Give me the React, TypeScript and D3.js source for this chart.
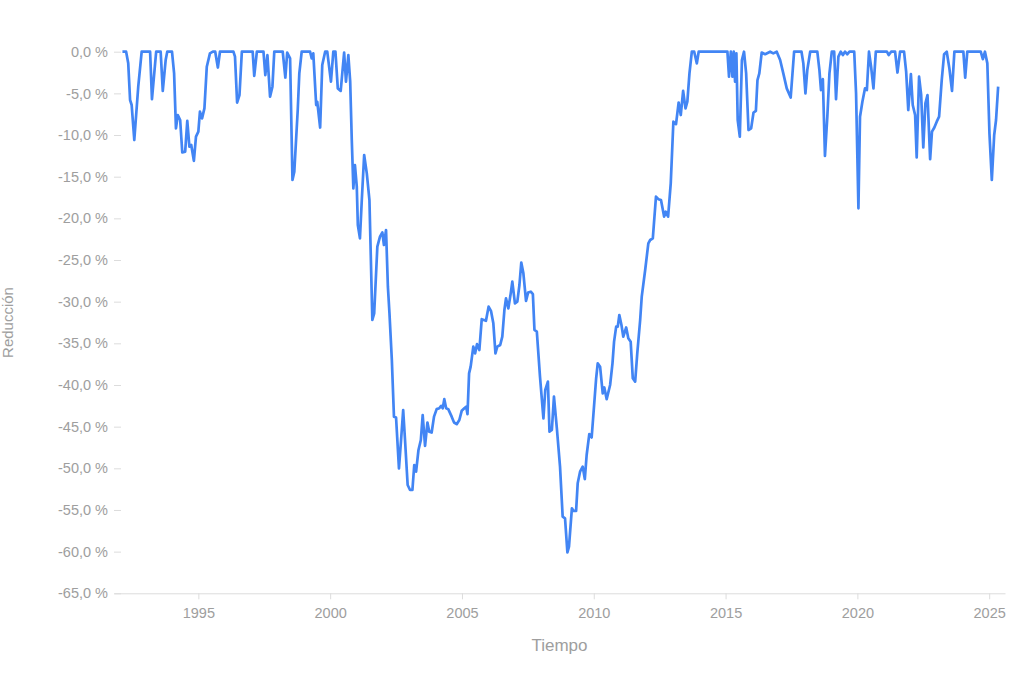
import { useEffect, useRef } from 'react';
import * as d3 from 'd3';

// Drawdown series: decimal year / reduction in %
const fechas = [
  1992.12, 1992.26, 1992.34, 1992.41, 1992.47, 1992.57, 1992.72, 1992.85, 1993.17, 1993.24,
  1993.4, 1993.57, 1993.65, 1993.76, 1993.82, 1994.0, 1994.08, 1994.15, 1994.22, 1994.31,
  1994.39, 1994.5, 1994.58, 1994.66, 1994.73, 1994.83, 1994.91, 1995.0, 1995.06, 1995.14,
  1995.23, 1995.32, 1995.44, 1995.55, 1995.64, 1995.74, 1995.82, 1996.33, 1996.39, 1996.47,
  1996.56, 1996.65, 1997.06, 1997.12, 1997.22, 1997.47, 1997.54, 1997.62, 1997.72, 1997.81,
  1997.88, 1998.2, 1998.3, 1998.37, 1998.48, 1998.57, 1998.64, 1998.77, 1998.83, 1998.92,
  1999.24, 1999.3, 1999.36, 1999.47, 1999.51, 1999.62, 1999.7, 1999.81, 1999.89, 2000.03,
  2000.12, 2000.2, 2000.29, 2000.4, 2000.53, 2000.6, 2000.69, 2000.76, 2000.82, 2000.88,
  2000.94, 2001.01, 2001.05, 2001.13, 2001.2, 2001.29, 2001.39, 2001.49, 2001.6, 2001.67,
  2001.79, 2001.89, 2001.98, 2002.04, 2002.12, 2002.19, 2002.25, 2002.34, 2002.42, 2002.5,
  2002.61, 2002.69, 2002.77, 2002.84, 2002.94, 2003.03, 2003.12, 2003.19, 2003.26, 2003.35,
  2003.44, 2003.51, 2003.6, 2003.69, 2003.76, 2003.85, 2003.94, 2004.04, 2004.14, 2004.21,
  2004.27, 2004.33, 2004.4, 2004.48, 2004.61, 2004.7, 2004.8, 2004.9, 2004.99, 2005.09,
  2005.16, 2005.21, 2005.27, 2005.33, 2005.43, 2005.5, 2005.57, 2005.66, 2005.75, 2005.91,
  2006.01, 2006.1, 2006.19, 2006.27, 2006.34, 2006.45, 2006.53, 2006.61, 2006.67, 2006.76,
  2006.85, 2006.91, 2007.01, 2007.1, 2007.18, 2007.25, 2007.33, 2007.43, 2007.51, 2007.61,
  2007.69, 2007.75, 2007.84, 2007.96, 2008.09, 2008.16, 2008.26, 2008.32, 2008.41, 2008.49,
  2008.6, 2008.72, 2008.82, 2008.91, 2009.0, 2009.06, 2009.17, 2009.23, 2009.33, 2009.39,
  2009.48, 2009.58, 2009.66, 2009.73, 2009.83, 2009.92, 2010.09, 2010.15, 2010.24, 2010.34,
  2010.4, 2010.49, 2010.62, 2010.71, 2010.77, 2010.85, 2010.91, 2010.97, 2011.05, 2011.12,
  2011.23, 2011.31, 2011.4, 2011.48, 2011.57, 2011.65, 2011.76, 2011.82, 2011.95, 2012.07,
  2012.14, 2012.24, 2012.36, 2012.45, 2012.55, 2012.67, 2012.73, 2012.82, 2012.92, 2013.02,
  2013.12, 2013.22, 2013.3, 2013.39, 2013.48, 2013.55, 2013.63, 2013.72, 2013.81, 2013.91,
  2013.98, 2015.07, 2015.13, 2015.2, 2015.26, 2015.31, 2015.36, 2015.41, 2015.46, 2015.54,
  2015.62, 2015.7, 2015.78, 2015.87, 2015.97, 2016.06, 2016.15, 2016.21, 2016.28, 2016.37,
  2016.5, 2016.69, 2016.81, 2016.94, 2017.07, 2017.19, 2017.32, 2017.47, 2017.6, 2017.88,
  2017.95, 2018.03, 2018.1, 2018.21, 2018.48, 2018.56, 2018.62, 2018.69, 2018.77, 2018.86,
  2018.94, 2019.03, 2019.12, 2019.19, 2019.28, 2019.37, 2019.45, 2019.53, 2019.62, 2019.7,
  2019.88, 2019.95, 2020.04, 2020.1, 2020.19, 2020.29, 2020.36, 2020.44, 2020.52, 2020.61,
  2020.7, 2021.12, 2021.19, 2021.28, 2021.43, 2021.52, 2021.62, 2021.77, 2021.85, 2021.93,
  2022.03, 2022.1, 2022.19, 2022.25, 2022.34, 2022.42, 2022.5, 2022.58, 2022.66, 2022.76,
  2022.83, 2022.92, 2023.01, 2023.1, 2023.2, 2023.29, 2023.39, 2023.49, 2023.59, 2023.68,
  2024.02, 2024.09, 2024.17, 2024.68, 2024.76, 2024.84, 2024.93, 2025.01, 2025.1, 2025.19,
  2025.26, 2025.34,
];

const reduccion = [
  0, 0, -1.4, -5.8, -6.4, -10.6, -4.2, 0, 0, -5.7,
  0, 0, -4.7, -1.0, 0, 0, -2.6, -9.2, -7.6, -8.2,
  -12.1, -12.0, -8.3, -11.4, -11.2, -13.1, -10.2, -9.6, -7.2, -8.0,
  -6.8, -1.8, -0.2, 0, 0, -1.9, 0, 0, -0.6, -6.1,
  -5.2, 0, 0, -2.9, 0, 0, -2.8, -0.4, -5.4, -4.2,
  0, 0, -3.1, -0.1, -0.8, -15.4, -14.4, -7.0, -2.6, 0,
  0, -0.8, -0.2, -6.4, -6.0, -9.1, -1.6, 0, 0, -3.6,
  0, 0, -4.4, -4.7, -0.1, -3.6, -0.4, -3.6, -10.6, -16.4,
  -13.6, -16.2, -20.8, -22.4, -17.8, -12.4, -14.6, -17.8, -32.2, -31.4,
  -23.4, -22.2, -21.7, -23.2, -21.4, -28.2, -31.4, -37.0, -43.8, -43.9,
  -50.0, -46.6, -43.0, -46.6, -52.0, -52.6, -52.6, -49.6, -50.4, -47.8,
  -46.6, -43.6, -47.3, -44.5, -45.6, -45.7, -43.8, -42.9, -42.8, -42.5,
  -42.8, -41.7, -42.8, -42.9, -43.8, -44.5, -44.7, -44.2, -43.1, -42.8,
  -42.6, -43.5, -38.6, -37.8, -35.4, -36.2, -35.1, -35.8, -32.1, -32.3,
  -30.6, -31.1, -32.6, -36.2, -35.4, -35.2, -34.2, -31.0, -29.6, -30.8,
  -29.0, -27.6, -30.2, -30.0, -28.0, -25.3, -26.6, -29.9, -28.9, -28.8,
  -29.1, -33.4, -33.6, -39.0, -44.0, -40.6, -39.6, -45.6, -45.4, -41.4,
  -45.2, -49.8, -55.8, -56.0, -60.1, -59.4, -54.8, -55.1, -55.1, -51.8,
  -50.4, -49.8, -51.3, -48.4, -45.9, -46.3, -39.2, -37.4, -37.8, -41.0,
  -40.3, -41.7, -40.0, -37.4, -34.8, -33.0, -33.0, -31.6, -32.8, -34.2,
  -33.1, -34.4, -34.8, -39.2, -39.6, -36.2, -32.2, -29.4, -26.2, -23.0,
  -22.6, -22.4, -17.4, -17.7, -17.8, -19.8, -19.2, -19.8, -15.8, -8.4,
  -8.7, -6.1, -7.6, -4.7, -6.8, -6.0, -2.6, 0, 0, -1.4,
  0, 0, -3.0, 0, -3.0, 0, -3.6, -0.2, -8.2, -10.2,
  -1.0, 0, -2.6, -9.4, -9.2, -7.3, -7.1, -3.4, -2.6, -0.1,
  -0.3, 0, -0.2, 0, -1.0, -2.6, -4.4, -5.5, 0, 0,
  -1.4, -5.0, -2.2, 0, 0, -2.2, -4.6, -3.3, -12.5, -7.8,
  -2.6, 0, 0, -5.7, -0.6, 0, -0.4, 0, -0.3, 0,
  0, -5.0, -18.8, -7.8, -6.0, -4.4, -4.6, 0, -1.8, -4.4,
  0, 0, -0.4, 0, 0, -2.5, 0, 0, -2.4, -7.0,
  -2.7, -6.4, -7.6, -12.7, -3.0, -5.2, -11.5, -6.2, -5.2, -12.9,
  -9.6, -9.1, -8.4, -7.8, -3.4, -0.3, 0, -2.0, -4.7, 0,
  0, -3.1, 0, 0, -0.9, 0, -1.4, -9.8, -15.4, -10.0,
  -8.2, -4.2,
];

const xTicks = [1995, 2000, 2005, 2010, 2015, 2020, 2025];
const yTicks = [0, -5, -10, -15, -20, -25, -30, -35, -40, -45, -50, -55, -60, -65];

const WIDTH = 1024;
const HEIGHT = 673;
const FONT = "'Liberation Sans', Arial, sans-serif";
const TEXT = '#9e9e9e';
const GRID = '#dcdcdc';
const LINE = '#4285f4';

export default function App() {
  const svgRef = useRef<SVGSVGElement>(null);

  useEffect(() => {
    const svg = d3.select(svgRef.current);
    svg.selectAll('*').remove();

    const x = d3.scaleLinear().domain([1991.8, 2025.6]).range([114, 1005]);
    const y = d3.scaleLinear().domain([-65, 0]).range([593.3, 51.7]);

    const fmt = (v: number) => `${d3.format('.1f')(v).replace('.', ',').replace('−', '-')} %`;

    // x axis
    const gx = svg
      .append('g')
      .attr('transform', `translate(0,${y(-65)})`)
      .call(
        d3
          .axisBottom(x)
          .tickValues(xTicks)
          .tickFormat((d) => String(d))
          .tickSize(6)
          .tickSizeOuter(0)
          .tickPadding(8),
      );
    gx.select('.domain').attr('stroke', GRID);
    gx.selectAll('.tick line').attr('stroke', GRID);
    gx.selectAll('.tick text')
      .attr('fill', TEXT)
      .attr('font-size', 14.5)
      .attr('font-family', FONT);

    // y axis
    const gy = svg
      .append('g')
      .attr('transform', 'translate(121,0)')
      .call(
        d3
          .axisLeft(y)
          .tickValues(yTicks)
          .tickFormat((d) => fmt(d as number))
          .tickSize(7)
          .tickPadding(6),
      );
    gy.select('.domain').remove();
    gy.selectAll('.tick line').attr('stroke', GRID);
    gy.selectAll('.tick text')
      .attr('fill', TEXT)
      .attr('font-size', 14.5)
      .attr('font-family', FONT);

    // drawdown line
    const points = fechas.map((f, i) => [f, reduccion[i]] as [number, number]);
    const line = d3
      .line<[number, number]>()
      .x((d) => x(d[0]))
      .y((d) => y(d[1]));
    svg
      .append('path')
      .datum(points)
      .attr('fill', 'none')
      .attr('stroke', LINE)
      .attr('stroke-width', 2.7)
      .attr('stroke-linejoin', 'round')
      .attr('d', line);

    // axis titles
    svg
      .append('text')
      .attr('x', (x(1991.8) + x(2025.6)) / 2)
      .attr('y', 651)
      .attr('text-anchor', 'middle')
      .attr('fill', TEXT)
      .attr('font-size', 17)
      .attr('font-family', FONT)
      .text('Tiempo');

    svg
      .append('text')
      .attr('transform', `translate(13,${(y(0) + y(-65)) / 2}) rotate(-90)`)
      .attr('text-anchor', 'middle')
      .attr('fill', TEXT)
      .attr('font-size', 15)
      .attr('font-family', FONT)
      .text('Reducción');
  }, []);

  return (
    <div style={{ position: 'absolute', left: 0, top: 0, background: '#fff' }}>
      <svg ref={svgRef} width={WIDTH} height={HEIGHT} style={{ display: 'block' }} />
    </div>
  );
}
